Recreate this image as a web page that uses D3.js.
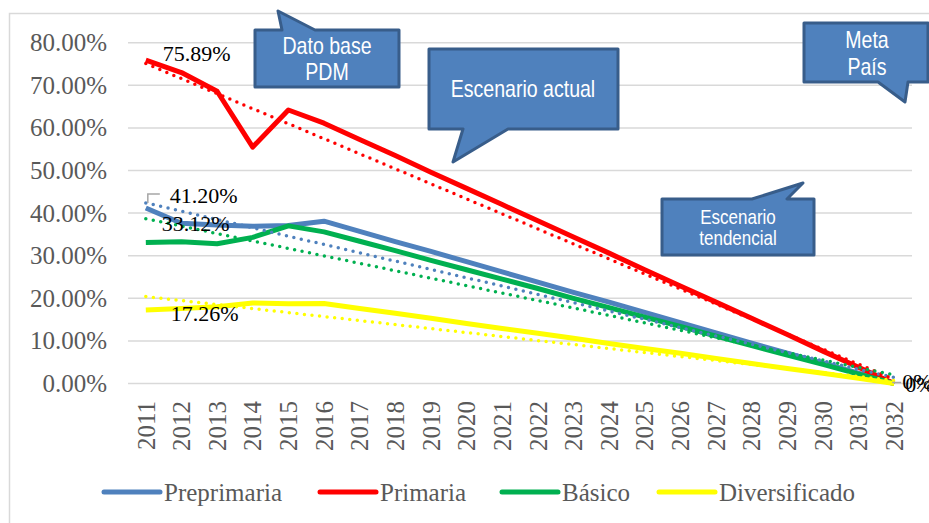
<!DOCTYPE html>
<meta charset="utf-8">
<style>
    body { margin: 0; background: #fff; }
    svg { display: block; }
    .serif { font-family: 'Liberation Serif', 'DejaVu Serif', serif; }
    .sans { font-family: 'Liberation Sans', Arial, sans-serif; }
</style>
<svg width="929" height="523"></svg>
<script src="https://d3js.org/d3.v7.min.js"></script>
<script>

    // ---- data (percent) ----
    var years = ["2011", "2012", "2013", "2014", "2015", "2016", "2017", "2018", "2019", "2020", "2021",
        "2022", "2023", "2024", "2025", "2026", "2027", "2028", "2029", "2030", "2031", "2032"];
    var preprimaria = [41.20, 37.6, 37.2, 36.9, 37.1, 38.1, 35.7, 33.3, 31.0, 28.6, 26.2,
        23.8, 21.4, 19.1, 16.7, 14.3, 11.9, 9.5, 7.1, 4.8, 2.4, 0];
    var primaria = [75.89, 73.0, 68.6, 55.5, 64.2, 61.1, 57.3, 53.5, 49.6, 45.8, 42.0,
        38.2, 34.4, 30.6, 26.7, 22.9, 19.1, 15.3, 11.5, 7.6, 3.8, 0];
    var basico = [33.12, 33.3, 32.8, 34.3, 37.0, 35.6, 33.4, 31.2, 28.9, 26.7, 24.5,
        22.3, 20.0, 17.8, 15.6, 13.4, 11.1, 8.9, 6.7, 4.5, 2.2, 0];
    var diversificado = [17.26, 17.6, 18.0, 18.9, 18.7, 18.8, 17.6, 16.5, 15.3, 14.1, 12.9,
        11.8, 10.6, 9.4, 8.2, 7.1, 5.9, 4.7, 3.5, 2.4, 1.2, 0];
    var seriesNames = ["Preprimaria", "Primaria", "Básico", "Diversificado"];
    // linear trend lines: value at first and last year
    var trendStart = [42.4, 75.1, 38.7, 20.4];
    var trendEnd = [1.4, 1.0, 2.0, 0.7];
    var yTicks = [0, 10, 20, 30, 40, 50, 60, 70, 80];

    var colors = ["#4F81BD", "#FF0000", "#00B050", "#FFFF00"];
    var allSeries = [preprimaria, primaria, basico, diversificado];

    var svg = d3.select("svg");

    // chart border
    svg.append("rect").attr("x", 9.5).attr("y", 13.5).attr("width", 940).attr("height", 540)
        .attr("fill", "none").attr("stroke", "#d9d9d9").attr("stroke-width", 1.5);

    var x = d3.scaleBand().domain(years).range([128, 912]);
    var y = d3.scaleLinear().domain([0, 80]).range([383.5, 42.7]);
    var cx = function (yr) { return x(yr) + x.bandwidth() / 2; };

    // gridlines
    svg.append("g").selectAll("line").data(yTicks).enter().append("line")
        .attr("x1", 128).attr("x2", 912)
        .attr("y1", function (d) { return y(d); }).attr("y2", function (d) { return y(d); })
        .attr("stroke", "#d9d9d9").attr("stroke-width", 1.5);

    // y axis
    var yAxis = svg.append("g").attr("transform", "translate(128,0)")
        .call(d3.axisLeft(y).tickValues(yTicks).tickSize(0).tickPadding(21)
            .tickFormat(function (d) { return d.toFixed(2) + "%"; }));
    yAxis.select(".domain").remove();
    yAxis.selectAll("text").attr("class", "serif").style("font-size", "25px").attr("fill", "#595959")
        .style("font-family", "'Liberation Serif', serif");

    // x axis
    var xAxis = svg.append("g").attr("transform", "translate(0,401)")
        .call(d3.axisBottom(x).tickSize(0).tickPadding(0));
    xAxis.select(".domain").remove();
    xAxis.selectAll("text")
        .attr("transform", "rotate(-90)").attr("x", 0).attr("y", 0).attr("dy", "0.35em")
        .attr("text-anchor", "end")
        .style("font-size", "25px").style("font-family", "'Liberation Serif', serif").attr("fill", "#595959");

    // series lines
    var line = d3.line()
        .x(function (d, i) { return cx(years[i]); })
        .y(function (d) { return y(d); });

    svg.append("g").selectAll("path").data(allSeries).enter().append("path")
        .attr("d", line)
        .attr("fill", "none")
        .attr("stroke", function (d, i) { return colors[i]; })
        .attr("stroke-width", 5)
        .attr("stroke-linejoin", "round");

    // dotted trend lines
    svg.append("g").selectAll("line").data(seriesNames).enter().append("line")
        .attr("x1", cx(years[0])).attr("x2", cx(years[years.length - 1]))
        .attr("y1", function (d, i) { return y(trendStart[i]); })
        .attr("y2", function (d, i) { return y(trendEnd[i]); })
        .attr("stroke", function (d, i) { return colors[i]; })
        .attr("stroke-width", 3.5)
        .attr("stroke-linecap", "round")
        .attr("stroke-dasharray", "0 7.6");

    // data labels
    var labels = svg.append("g").attr("class", "serif").style("font-size", "22px").attr("fill", "#000");
    var firstLabels = [
        { s: 1, dx: 17, dy: -7 },
        { s: 0, dx: 24, dy: -13 },
        { s: 2, dx: 16, dy: -19 },
        { s: 3, dx: 25, dy: 3 }
    ];
    firstLabels.forEach(function (l) {
        labels.append("text")
            .attr("x", cx(years[0]) + l.dx)
            .attr("y", y(allSeries[l.s][0]) + l.dy)
            .attr("dy", "0.35em")
            .text(allSeries[l.s][0].toFixed(2) + "%");
    });
    // leader line for 41.20%
    svg.append("polyline")
        .attr("points", [[cx(years[0]) + 2, y(preprimaria[0]) - 5], [cx(years[0]) + 2, y(preprimaria[0]) - 14],
            [cx(years[0]) + 14, y(preprimaria[0]) - 14]].join(" "))
        .attr("fill", "none").attr("stroke", "#a6a6a6").attr("stroke-width", 1.5);
    // end labels (0%)
    var last = years.length - 1;
    svg.append("line").attr("x1", cx(years[last]) - 2).attr("x2", cx(years[last]) + 7)
        .attr("y1", y(0) - 1).attr("y2", y(0) - 1).attr("stroke", "#a6a6a6").attr("stroke-width", 1.5);
    [{ dx: 8, dy: -2 }, { dx: 11, dy: 1 }].forEach(function (l) {
        labels.append("text")
            .attr("x", cx(years[last]) + l.dx)
            .attr("y", y(preprimaria[last]) + l.dy)
            .attr("dy", "0.35em")
            .text(preprimaria[last] + "%");
    });

    // callouts
    var callouts = [
        { lines: ["Dato base", "PDM"], x0: 255, y0: 30, x1: 399, y1: 87, side: "top", p1: 282, p2: 315, tip: [278, 11], tx: 327, ty: [46, 72], fs: 23 },
        { lines: ["Escenario actual"], x0: 429, y0: 49, x1: 618, y1: 129, side: "bottom", p1: 463, p2: 508, tip: [453, 162], tx: 523, ty: [89], fs: 23 },
        { lines: ["Meta", "País"], x0: 804, y0: 23, x1: 928, y1: 82, side: "bottom", p1: 878, p2: 908, tip: [905, 102], tx: 867, ty: [40, 67], fs: 23 },
        { lines: ["Escenario", "tendencial"], x0: 662, y0: 199, x1: 814, y1: 255, side: "top", p1: 752, p2: 787, tip: [803, 183], tx: 738, ty: [217, 238], fs: 20 }
    ];

    function calloutPath(c) {
        if (c.side === "top") {
            return "M" + c.x0 + "," + c.y0 + "L" + c.p1 + "," + c.y0 + "L" + c.tip[0] + "," + c.tip[1] +
                "L" + c.p2 + "," + c.y0 + "L" + c.x1 + "," + c.y0 + "L" + c.x1 + "," + c.y1 + "L" + c.x0 + "," + c.y1 + "Z";
        }
        return "M" + c.x0 + "," + c.y0 + "L" + c.x1 + "," + c.y0 + "L" + c.x1 + "," + c.y1 + "L" + c.p2 + "," + c.y1 +
            "L" + c.tip[0] + "," + c.tip[1] + "L" + c.p1 + "," + c.y1 + "L" + c.x0 + "," + c.y1 + "Z";
    }

    var cg = svg.append("g").selectAll("g").data(callouts).enter().append("g");
    cg.append("path").attr("d", calloutPath)
        .attr("fill", "#4F81BD").attr("stroke", "#385D8A").attr("stroke-width", 3).attr("stroke-linejoin", "round");
    cg.each(function (c) {
        var g = d3.select(this);
        c.lines.forEach(function (t, i) {
            g.append("text")
                .attr("class", "sans")
                .attr("transform", "translate(" + c.tx + "," + c.ty[i] + ") scale(0.85,1)")
                .attr("text-anchor", "middle").attr("dy", "0.35em")
                .style("font-size", c.fs + "px").attr("fill", "#fff")
                .text(t);
        });
    });

    // legend
    var legendX = [104, 320, 502, 659];
    var lg = svg.append("g").selectAll("g").data(seriesNames).enter().append("g")
        .attr("transform", function (d, i) { return "translate(" + legendX[i] + ",492)"; });
    lg.append("line").attr("x1", 0).attr("x2", 56).attr("y1", 0).attr("y2", 0)
        .attr("stroke", function (d, i) { return colors[i]; })
        .attr("stroke-width", 5).attr("stroke-linecap", "round");
    lg.append("text").attr("class", "serif").attr("x", 60).attr("dy", "0.35em")
        .style("font-size", "25px").attr("fill", "#595959")
        .text(function (d) { return d; });

</script>
